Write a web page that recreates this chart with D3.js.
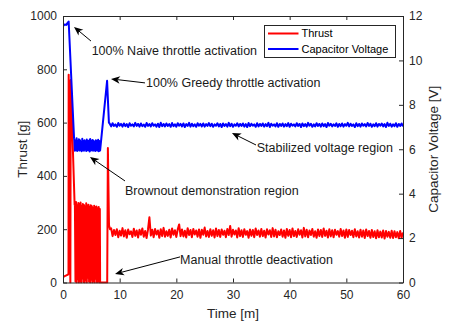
<!DOCTYPE html>
<html>
<head>
<meta charset="utf-8">
<script src="https://cdn.jsdelivr.net/npm/d3@7"></script>
<style>
  html, body { margin: 0; padding: 0; background: #fff; }
  svg { display: block; font-family: "Liberation Sans", Arial, Helvetica, sans-serif; }
</style>
</head>
<body>
<script>
// axis ticks
const timeTicks = [0, 10, 20, 30, 40, 50, 60];
const thrustTicks = [0, 200, 400, 600, 800, 1000];
const voltTicks = [0, 2, 4, 6, 8, 10, 12];

// thrust [g] : start-up spike
const thrustStartT = [0, 0.3, 0.6, 0.9, 0.97, 1.0, 1.3, 1.36, 2.05];
const thrustStartV = [20, 24, 27, 30, 32, 780, 0, 760, 292];
// brownout block, sampled every 0.1 min from 2.1
const thrustBrownT0 = 2.1, thrustBrownDt = 0.1;
const thrustBrown = [296, 4, 302, 0, 289, 12, 298, 0, 293, 6, 300, 0, 287, 15, 295, 2, 291, 0, 284, 8, 297, 0,
  288, 18, 292, 3, 283, 0, 290, 10, 286, 0, 279, 5, 288, 0, 281, 14, 285, 0, 277, 4, 283, 0, 276];
// recovery after greedy activation
const thrustRecT = [6.55, 7.8, 7.92, 8.12, 8.3];
const thrustRecV = [0, 0, 505, 215, 200];
// steady region, every 0.25 min from 8.5
const thrustSteadyT0 = 8.5, thrustSteadyDt = 0.25;
const thrustSteady = [
  203, 174, 197, 178, 200, 170, 194, 176, 204, 173,
  196, 168, 199, 181, 192, 171, 202, 175, 195, 169,
  198, 179, 203, 172, 193, 167, 199, 245, 176, 198,
  170, 201, 180, 195, 168, 200, 174, 205, 172, 192,
  175, 198, 169, 203, 179, 196, 171, 200, 218, 174,
  199, 173, 194, 169, 204, 178, 197, 170, 201, 180,
  195, 172, 199, 168, 198, 179, 206, 173, 193, 171,
  200, 175, 196, 169, 203, 174, 197, 171, 199, 179,
  194, 170, 201, 178, 212, 172, 198, 180, 195, 169,
  204, 174, 196, 171, 200, 179, 193, 168, 199, 175,
  197, 170, 203, 178, 195, 172, 201, 174, 194, 169,
  200, 180, 196, 171, 204, 173, 198, 170, 192, 178,
  199, 172, 195, 168, 201, 175, 197, 170, 203, 174,
  193, 171, 200, 179, 196, 169, 205, 173, 198, 170,
  195, 178, 201, 172, 192, 168, 199, 174, 197, 171,
  203, 175, 194, 169, 200, 173, 196, 170, 198, 179,
  193, 172, 201, 174, 195, 168, 199, 171, 197, 178,
  194, 170, 200, 173, 192, 169, 198, 172, 195, 167,
  199, 174, 193, 168, 197, 171, 192, 166, 196, 170,
  191, 169, 195, 165, 193, 172, 190, 168, 194, 167,
  192, 170, 189, 166, 193, 168, 188];

// capacitor voltage [V]
const voltStartT = [0, 0.3, 0.6, 0.85, 1.0, 1.95];
const voltStartV = [11.55, 11.62, 11.6, 11.7, 11.75, 6.5];
const voltBrownT0 = 2.0, voltBrownDt = 0.1;
const voltBrown = [6.42, 5.93, 6.38, 5.97, 6.50, 5.92, 6.35, 5.98, 6.45, 5.94,
  6.40, 5.96, 6.33, 5.91, 6.47, 5.97, 6.36, 5.93, 6.41, 5.99,
  6.34, 5.92, 6.44, 5.95, 6.37, 5.96, 6.39, 5.90, 6.46, 5.94,
  6.35, 5.97, 6.42, 5.93, 6.38, 5.95, 6.33, 5.92, 6.40, 5.96,
  6.36, 5.94, 6.43, 5.91, 6.37, 5.93];
const voltRecT = [6.55, 7.78, 8.1];
const voltRecV = [5.95, 9.08, 7.2];
const voltSteadyT0 = 8.25, voltSteadyDt = 0.25;
const voltSteady = [
  7.15, 7.03, 7.17, 7.05, 7.12, 7.01, 7.18, 7.06, 7.14, 7.02,
  7.16, 7.04, 7.13, 7.00, 7.17, 7.06, 7.12, 7.03, 7.19, 7.05,
  7.14, 7.02, 7.16, 7.04, 7.11, 7.01, 7.18, 7.05, 7.13, 7.03,
  7.17, 7.06, 7.12, 7.02, 7.15, 7.00, 7.19, 7.04, 7.14, 7.03,
  7.16, 7.05, 7.13, 7.01, 7.18, 7.04, 7.12, 7.02, 7.17, 7.06,
  7.14, 7.03, 7.16, 7.00, 7.13, 7.05, 7.19, 7.02, 7.15, 7.04,
  7.12, 7.01, 7.17, 7.06, 7.14, 7.03, 7.16, 7.02, 7.13, 7.05,
  7.18, 7.04, 7.15, 7.01, 7.12, 7.06, 7.17, 7.03, 7.14, 7.00,
  7.16, 7.05, 7.13, 7.02, 7.19, 7.04, 7.15, 7.01, 7.12, 7.06,
  7.17, 7.03, 7.14, 7.05, 7.16, 7.02, 7.13, 7.00, 7.18, 7.04,
  7.15, 7.06, 7.12, 7.01, 7.17, 7.03, 7.14, 7.05, 7.16, 7.02,
  7.13, 7.04, 7.19, 7.00, 7.15, 7.06, 7.12, 7.03, 7.17, 7.01,
  7.14, 7.05, 7.16, 7.02, 7.13, 7.04, 7.18, 7.01, 7.15, 7.06,
  7.12, 7.03, 7.17, 7.05, 7.14, 7.00, 7.16, 7.04, 7.13, 7.02,
  7.19, 7.06, 7.15, 7.01, 7.12, 7.03, 7.17, 7.05, 7.14, 7.02,
  7.16, 7.04, 7.13, 7.00, 7.18, 7.06, 7.15, 7.03, 7.12, 7.05,
  7.17, 7.01, 7.14, 7.04, 7.16, 7.02, 7.13, 7.06, 7.19, 7.03,
  7.15, 7.05, 7.12, 7.00, 7.17, 7.04, 7.14, 7.02, 7.16, 7.06,
  7.13, 7.03, 7.18, 7.05, 7.15, 7.01, 7.12, 7.04, 7.17, 7.02,
  7.14, 7.06, 7.16, 7.03, 7.13, 7.00, 7.19, 7.05, 7.15, 7.02,
  7.12, 7.04, 7.17, 7.01, 7.14, 7.05, 7.16, 7.03];

// annotations: text anchor and arrow tail/head in (time, thrust) units
const notes = [
  { text: "100% Naive throttle activation", at: [5.06, 872], tail: [4.94, 906], head: [1.94, 959] },
  { text: "100% Greedy throttle activation", at: [14.65, 749], tail: [14.47, 749], head: [8.47, 764] },
  { text: "Stabilized voltage region", at: [34.18, 508], tail: [34.06, 516], head: [29.82, 561] },
  { text: "Brownout demonstration region", at: [10.94, 347], tail: [10.94, 381], head: [4.76, 471] },
  { text: "Manual throttle deactivation", at: [20.65, 88], tail: [20.65, 96], head: [9.18, 32] }
];

const seriesNames = ["Thrust", "Capacitor Voltage"];
const seriesColors = ["#ff0000", "#0000ff"];

function buildSeries(parts) {
  const pts = [];
  parts.forEach(p => {
    if (p.t) p.t.forEach((t, i) => pts.push([t, p.v[i]]));
    else p.v.forEach((v, i) => pts.push([p.t0 + i * p.dt, v]));
  });
  return pts;
}

const thrustPts = buildSeries([
  { t: thrustStartT, v: thrustStartV },
  { t0: thrustBrownT0, dt: thrustBrownDt, v: thrustBrown },
  { t: thrustRecT, v: thrustRecV },
  { t0: thrustSteadyT0, dt: thrustSteadyDt, v: thrustSteady }
]);
const voltPts = buildSeries([
  { t: voltStartT, v: voltStartV },
  { t0: voltBrownT0, dt: voltBrownDt, v: voltBrown },
  { t: voltRecT, v: voltRecV },
  { t0: voltSteadyT0, dt: voltSteadyDt, v: voltSteady }
]);

const W = 454, H = 326;
const plotLeft = 63, plotRight = 403, plotTop = 16, plotBottom = 282.5;
const axisColor = "#262626";

const svg = d3.select("body").append("svg").attr("width", W).attr("height", H);

const x = d3.scaleLinear().domain([0, 60]).range([plotLeft, plotRight]);
const yL = d3.scaleLinear().domain([0, 1000]).range([plotBottom, plotTop]);
const yR = d3.scaleLinear().domain([0, 12]).range([plotBottom, plotTop]);

svg.append("defs").append("clipPath").attr("id", "plot")
  .append("rect").attr("x", plotLeft).attr("y", plotTop - 1)
  .attr("width", plotRight - plotLeft).attr("height", plotBottom - plotTop + 2);

const plot = svg.append("g").attr("clip-path", "url(#plot)");

plot.append("path")
  .attr("d", d3.line().x(d => x(d[0])).y(d => yL(d[1]))(thrustPts))
  .attr("fill", "none").attr("stroke", seriesColors[0])
  .attr("stroke-width", 2).attr("stroke-linejoin", "round");

plot.append("path")
  .attr("d", d3.line().x(d => x(d[0])).y(d => yR(d[1]))(voltPts))
  .attr("fill", "none").attr("stroke", seriesColors[1])
  .attr("stroke-width", 2).attr("stroke-linejoin", "round");

// axes, ticks pointing inward
function styleAxis(g) {
  g.select(".domain").attr("stroke", axisColor);
  g.selectAll(".tick line").attr("stroke", axisColor);
  g.selectAll(".tick text").attr("fill", axisColor).attr("font-size", 12)
    .attr("font-family", "Liberation Sans, Arial, sans-serif");
}

const fmt = d3.format("d");

svg.append("g").attr("transform", `translate(0,${plotBottom})`)
  .call(d3.axisBottom(x).tickValues(timeTicks).tickFormat(fmt).tickSizeInner(-4).tickSizeOuter(0).tickPadding(8))
  .call(styleAxis);
svg.append("g").attr("transform", `translate(0,${plotTop})`)
  .call(d3.axisTop(x).tickValues(timeTicks).tickSizeInner(-4).tickSizeOuter(0).tickFormat(""))
  .call(styleAxis);
svg.append("g").attr("transform", `translate(${plotLeft},0)`)
  .call(d3.axisLeft(yL).tickValues(thrustTicks).tickFormat(fmt).tickSizeInner(-4).tickSizeOuter(0).tickPadding(6))
  .call(styleAxis);
svg.append("g").attr("transform", `translate(${plotRight},0)`)
  .call(d3.axisRight(yR).tickValues(voltTicks).tickFormat(fmt).tickSizeInner(-4).tickSizeOuter(0).tickPadding(6))
  .call(styleAxis);

// axis labels
svg.append("text").attr("x", (plotLeft + plotRight) / 2).attr("y", 318)
  .attr("text-anchor", "middle").attr("font-size", 13.5).attr("fill", axisColor)
  .text("Time [m]");
svg.append("text").attr("transform", `translate(27,${(plotTop + plotBottom) / 2}) rotate(-90)`)
  .attr("text-anchor", "middle").attr("font-size", 13.5).attr("fill", axisColor)
  .text("Thrust [g]");
svg.append("text").attr("transform", `translate(438,${(plotTop + plotBottom) / 2}) rotate(-90)`)
  .attr("text-anchor", "middle").attr("font-size", 13.5).attr("fill", axisColor)
  .text("Capacitor Voltage [V]");

// annotations with arrows
const ann = svg.append("g");
notes.forEach(n => {
  const tx = x(n.tail[0]), ty = yL(n.tail[1]);
  const hx = x(n.head[0]), hy = yL(n.head[1]);
  const len = Math.hypot(hx - tx, hy - ty);
  const ux = (hx - tx) / len, uy = (hy - ty) / len;
  const nx = -uy, ny = ux;
  const L = 9, w = 3.8, notch = 2.5;
  ann.append("line")
    .attr("x1", tx).attr("y1", ty)
    .attr("x2", hx - (L - notch) * ux).attr("y2", hy - (L - notch) * uy)
    .attr("stroke", "#000").attr("stroke-width", 1);
  ann.append("path")
    .attr("d", `M${hx},${hy}L${hx - L * ux + w * nx},${hy - L * uy + w * ny}` +
      `L${hx - (L - notch) * ux},${hy - (L - notch) * uy}` +
      `L${hx - L * ux - w * nx},${hy - L * uy - w * ny}Z`)
    .attr("fill", "#000");
  ann.append("text")
    .attr("x", x(n.at[0])).attr("y", yL(n.at[1])).attr("dy", "0.36em")
    .attr("font-size", 12.5).attr("fill", "#1a1a1a")
    .text(n.text);
});

// legend
const leg = svg.append("g");
leg.append("rect").attr("x", 264.5).attr("y", 25.5).attr("width", 131).attr("height", 32)
  .attr("fill", "#fff").attr("stroke", axisColor).attr("stroke-width", 1);
seriesNames.forEach((name, i) => {
  const cy = 33.5 + i * 15.5;
  leg.append("line").attr("x1", 268).attr("x2", 298.5).attr("y1", cy).attr("y2", cy)
    .attr("stroke", seriesColors[i]).attr("stroke-width", 2);
  leg.append("text").attr("x", 301.5).attr("y", cy).attr("dy", "0.36em")
    .attr("font-size", 11).attr("fill", "#000").text(name);
});
</script>
</body>
</html>
